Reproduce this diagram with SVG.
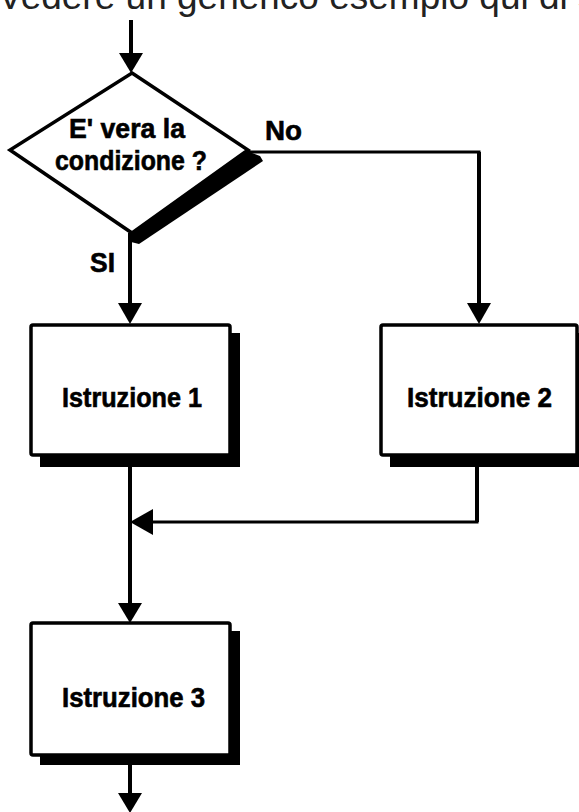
<svg xmlns="http://www.w3.org/2000/svg" width="579" height="812" viewBox="0 0 579 812">
  <defs>
    <style>
      .caption { font-family: "Liberation Sans", Arial, sans-serif; font-size: 37px; fill: #222; }
      .lbl { font-family: "Liberation Sans", Arial, sans-serif; font-weight: bold; font-size: 27px; fill: #000; stroke: #000; stroke-width: 0.6; }
      .box { fill: #fff; stroke: #000; stroke-width: 3.5; }
      .shadow { fill: #000; }
      .wire { fill: none; stroke: #000; stroke-width: 4; }
      .wire-h { fill: none; stroke: #000; stroke-width: 3; }
      .head { fill: #000; }
    </style>
  </defs>
  <rect width="579" height="812" fill="#fff"/>

  <!-- page text above the flowchart, partly cut off by the top edge -->
  <text class="caption" x="-2" y="9">Vedere un generico esempio qui di s</text>

  <!-- connectors -->
  <g id="connectors">
    <!-- entry -->
    <line class="wire" x1="131" y1="20" x2="131" y2="55"/>
    <polygon class="head" points="119,53 143,53 131,73"/>
    <!-- SI branch -->
    <line class="wire" x1="130" y1="233" x2="130" y2="305"/>
    <polygon class="head" points="118,303 142,303 130,324"/>
    <!-- No branch -->
    <polyline class="wire-h" points="248,152 479,152 479,305"/>
    <line class="wire" x1="479" y1="152" x2="479" y2="305"/>
    <polygon class="head" points="467,303 491,303 479,324"/>
    <!-- from Istruzione 1 down to Istruzione 3 -->
    <line class="wire" x1="130" y1="467" x2="130" y2="605"/>
    <polygon class="head" points="118,603 142,603 130,623"/>
    <!-- join from Istruzione 2 -->
    <polyline class="wire-h" points="477,467 477,522 150,522"/>
    <line class="wire" x1="477" y1="467" x2="477" y2="522"/>
    <polygon class="head" points="153,509 153,535 130,522"/>
    <!-- exit -->
    <line class="wire" x1="130" y1="765" x2="130" y2="795"/>
    <polygon class="head" points="118,793 142,793 130,813"/>
  </g>

  <!-- decision -->
  <g id="decision">
    <polygon class="shadow" points="247,151 260,156 263,161 139,244 131,242 132,233"/>
    <polygon class="box" stroke-width="3" points="132,73 248,150 132,233 10,150"/>
    <text class="lbl" x="127" y="138" text-anchor="middle" textLength="116" lengthAdjust="spacingAndGlyphs">E' vera la</text>
    <text class="lbl" x="131" y="170" text-anchor="middle" textLength="152" lengthAdjust="spacingAndGlyphs">condizione ?</text>
  </g>

  <g id="label-no">
    <text class="lbl" x="265" y="140" textLength="37" lengthAdjust="spacingAndGlyphs">No</text>
  </g>
  <g id="label-si">
    <text class="lbl" x="90" y="272" textLength="25" lengthAdjust="spacingAndGlyphs">SI</text>
  </g>

  <!-- Istruzione 1 -->
  <g id="istruzione-1">
    <rect class="shadow" x="40" y="333" width="200" height="134"/>
    <rect class="box" x="31" y="325" width="199" height="130" rx="2"/>
    <text class="lbl" x="62" y="407" textLength="140" lengthAdjust="spacingAndGlyphs">Istruzione 1</text>
  </g>

  <!-- Istruzione 2 -->
  <g id="istruzione-2">
    <rect class="shadow" x="390" y="333" width="200" height="134"/>
    <rect class="box" x="381" y="325" width="196" height="130" rx="2"/>
    <text class="lbl" x="407" y="407" textLength="145" lengthAdjust="spacingAndGlyphs">Istruzione 2</text>
  </g>

  <!-- Istruzione 3 -->
  <g id="istruzione-3">
    <rect class="shadow" x="40" y="631" width="200" height="134"/>
    <rect class="box" x="31" y="623" width="199" height="132" rx="2"/>
    <text class="lbl" x="62" y="707" textLength="143" lengthAdjust="spacingAndGlyphs">Istruzione 3</text>
  </g>
</svg>
